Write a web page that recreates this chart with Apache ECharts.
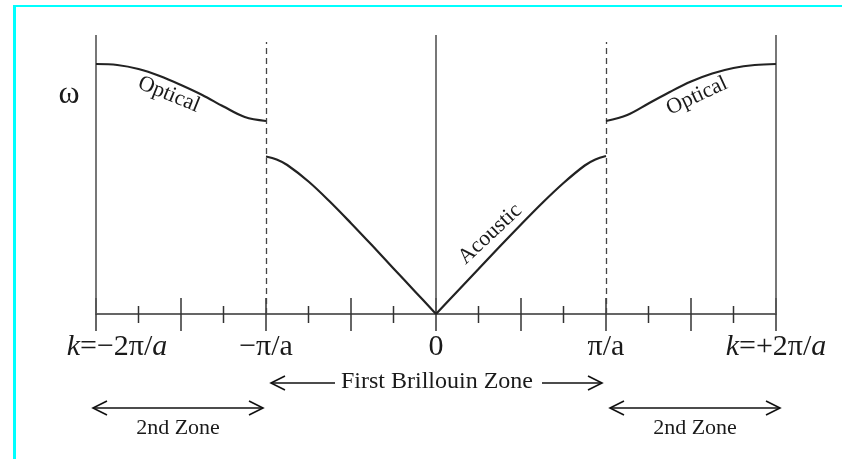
<!DOCTYPE html>
<html>
<head>
<meta charset="utf-8">
<script src="https://cdn.jsdelivr.net/npm/echarts@6/dist/echarts.min.js"></script>
<style>
  html, body { margin: 0; padding: 0; background: #fff; }
  #chart { width: 842px; height: 459px; }
</style>
</head>
<body>
<div id="chart"></div>
<script>
// Phonon dispersion of a diatomic chain in the extended-zone scheme.
// k in units of pi/a, omega in arbitrary units.
const acousticLeftK  = [-1, -0.9375, -0.875, -0.75, -0.625, -0.5, -0.375, -0.25, -0.125, 0];
const acousticLeftW  = [1.575, 1.545, 1.49, 1.325, 1.125, 0.908, 0.684, 0.456, 0.228, 0];
const acousticRightK = [0, 0.125, 0.25, 0.375, 0.5, 0.625, 0.75, 0.875, 0.9375, 1];
const acousticRightW = [0, 0.225, 0.45, 0.675, 0.895, 1.11, 1.31, 1.485, 1.545, 1.58];
const opticalLeftK   = [-2, -1.875, -1.75, -1.625, -1.5, -1.375, -1.25, -1.125, -1];
const opticalLeftW   = [2.50, 2.49, 2.45, 2.38, 2.29, 2.19, 2.075, 1.97, 1.93];
const opticalRightK  = [1, 1.125, 1.25, 1.375, 1.5, 1.625, 1.75, 1.875, 2];
const opticalRightW  = [1.93, 1.99, 2.105, 2.22, 2.325, 2.405, 2.46, 2.49, 2.50];

const tickValues = [-2, -1, 0, 1, 2];
const tickLabels = ['k=\u22122\u03c0/a', '\u2212\u03c0/a', '0', '\u03c0/a', 'k=+2\u03c0/a'];
const majorTickK = [-2, -1.5, -1, -0.5, 0, 0.5, 1, 1.5, 2];
const minorTickK = [-1.75, -1.25, -0.75, -0.25, 0.25, 0.75, 1.25, 1.75];

const zoneSpans = [[-2, -1], [-1, 1], [1, 2]];
const zoneNames = ['2nd Zone', 'First Brillouin Zone', '2nd Zone'];

const solidLineK = [-2, 0, 2];
const dashedLineK = [-1, 1];
const omegaTop = 2.79;
const dashedTop = 2.72;

const SERIF = '"Liberation Serif", "DejaVu Serif", serif';
const INK = '#1a1a1a';

const zip = (a, b) => a.map((v, i) => [v, b[i]]);

const curveStyle = { color: '#222', width: 2.2 };
function curve(name, k, w) {
  return {
    name, type: 'line', data: zip(k, w), showSymbol: false, smooth: 0.35,
    lineStyle: curveStyle, itemStyle: { color: '#222' }, silent: true, z: 5
  };
}

// Tick marks that straddle the k axis (above and below the line).
function ticks(values, up, down) {
  return {
    type: 'custom', silent: true, clip: false, z: 4,
    data: values.map(k => [k, 0]),
    encode: { x: 0, y: 1 },
    renderItem(params, api) {
      const p = api.coord([api.value(0), 0]);
      return {
        type: 'line',
        shape: { x1: p[0], y1: p[1] - up, x2: p[0], y2: p[1] + down },
        style: { stroke: '#333', lineWidth: 1.5 }
      };
    }
  };
}

function tickLabel(v) {
  const i = tickValues.indexOf(v);
  if (i < 0) return '';
  const t = tickLabels[i];
  if (t.startsWith('k=')) {
    const mid = t.slice(1, -1);
    const lead = v < 0 ? 'kl' : 'it';
    return '{' + lead + '|k}{n|' + mid + '}{it|a}';
  }
  return '{n|' + t + '}';
}

const chart = echarts.init(document.getElementById('chart'), null, { renderer: 'canvas' });

const grid = { left: 96, right: 66, top: 35, bottom: 145 };

const option = {
  animation: false,
  backgroundColor: '#fff',
  grid,
  xAxis: {
    type: 'value', min: -2, max: 2, interval: 1, position: 'bottom',
    axisLine: { show: true, onZero: false, lineStyle: { color: '#333', width: 1.5 } },
    axisTick: { show: false },
    splitLine: { show: false },
    axisLabel: {
      margin: 18, formatter: tickLabel,
      rich: {
        n:  { fontFamily: SERIF, fontSize: 30, color: INK },
        it: { fontFamily: SERIF, fontSize: 30, color: INK, fontStyle: 'italic' },
        kl: { fontFamily: SERIF, fontSize: 30, color: INK, fontStyle: 'italic', padding: [0, 0, 0, 42] }
      }
    }
  },
  yAxis: {
    type: 'value', min: 0, max: omegaTop,
    axisLine: { show: false }, axisTick: { show: false }, axisLabel: { show: false },
    splitLine: { show: false }
  },
  series: [
    curve('Optical', opticalLeftK, opticalLeftW),
    curve('Acoustic', acousticLeftK, acousticLeftW),
    curve('Acoustic', acousticRightK, acousticRightW),
    curve('Optical', opticalRightK, opticalRightW),
    ticks(majorTickK, 16, 17),
    ticks(minorTickK, 8, 9),
    {
      type: 'line', data: [], silent: true,
      markLine: {
        silent: true, symbol: ['none', 'none'], label: { show: false },
        data: [
          ...solidLineK.map(k => [
            { coord: [k, 0], lineStyle: { color: '#555', width: 1.6, type: 'solid' } },
            { coord: [k, omegaTop] }
          ]),
          ...dashedLineK.map(k => [
            { coord: [k, 0], lineStyle: { color: '#444', width: 1.3, type: [6, 4] } },
            { coord: [k, dashedTop] }
          ])
        ]
      }
    },
    {
      // zone extents drawn under the k axis as open-headed arrows
      type: 'custom', silent: true, clip: false,
      data: zoneSpans.map(s => [s[0], s[1], 0]),
      encode: { x: [0, 1], y: 2 },
      renderItem(params, api) {
        const i = params.dataIndex;
        const a = api.coord([api.value(0), 0]);
        const b = api.coord([api.value(1), 0]);
        const base = a[1];
        const stroke = { stroke: '#111', lineWidth: 1.6, fill: null };
        const head = (x, y, dir) => ({
          type: 'polyline',
          shape: { points: [[x + dir * 14, y - 7], [x, y], [x + dir * 14, y + 7]] },
          style: stroke
        });
        const children = [];
        if (i === 1) {
          const y = base + 69;
          const x0 = a[0] + 5, x1 = b[0] - 4, mid = (a[0] + b[0]) / 2;
          children.push(
            { type: 'line', shape: { x1: x0, y1: y, x2: mid - 101, y2: y }, style: stroke },
            { type: 'line', shape: { x1: mid + 106, y1: y, x2: x1, y2: y }, style: stroke },
            head(x0, y, 1), head(x1, y, -1),
            { type: 'text', x: mid + 1, y: y - 1,
              style: { text: zoneNames[i], font: '24px ' + SERIF, fill: INK, align: 'center', verticalAlign: 'middle' } }
          );
        } else {
          const shift = i === 0 ? -3 : 4;
          const y = base + 94;
          const x0 = a[0] + shift, x1 = b[0] + shift;
          children.push(
            { type: 'line', shape: { x1: x0, y1: y, x2: x1, y2: y }, style: stroke },
            head(x0, y, 1), head(x1, y, -1),
            { type: 'text', x: (x0 + x1) / 2, y: y + 20,
              style: { text: zoneNames[i], font: '22px ' + SERIF, fill: INK, align: 'center', verticalAlign: 'middle' } }
          );
        }
        return { type: 'group', children };
      }
    }
  ]
};

chart.setOption(option);

// Branch names and the omega symbol, anchored in data coordinates.
const branchLabels = [
  { text: 'Optical',  at: [-1.571, 2.195], deg: -22 },
  { text: 'Optical',  at: [1.535, 2.18],   deg: 25 },
  { text: 'Acoustic', at: [0.318, 0.80],   deg: 43 }
];
const labelEls = branchLabels.map(l => {
  const p = chart.convertToPixel({ xAxisIndex: 0, yAxisIndex: 0 }, l.at);
  return {
    type: 'text', x: p[0], y: p[1], rotation: l.deg * Math.PI / 180, silent: true,
    style: { text: l.text, font: '22px ' + SERIF, fill: INK, align: 'center', verticalAlign: 'middle' }
  };
});
const omegaPos = chart.convertToPixel({ xAxisIndex: 0, yAxisIndex: 0 }, [-2, 2.2]);

chart.setOption({
  graphic: [
    { type: 'rect', silent: true, shape: { x: 13, y: 5, width: 3, height: 454 }, style: { fill: '#00ffff' } },
    { type: 'rect', silent: true, shape: { x: 13, y: 5, width: 829, height: 2 }, style: { fill: '#00ffff' } },
    { type: 'text', silent: true, x: omegaPos[0] - 27, y: omegaPos[1] + 1,
      style: { text: '\u03c9', font: '32px ' + SERIF, fill: INK, align: 'center', verticalAlign: 'middle' } },
    ...labelEls
  ]
});
</script>
</body>
</html>
